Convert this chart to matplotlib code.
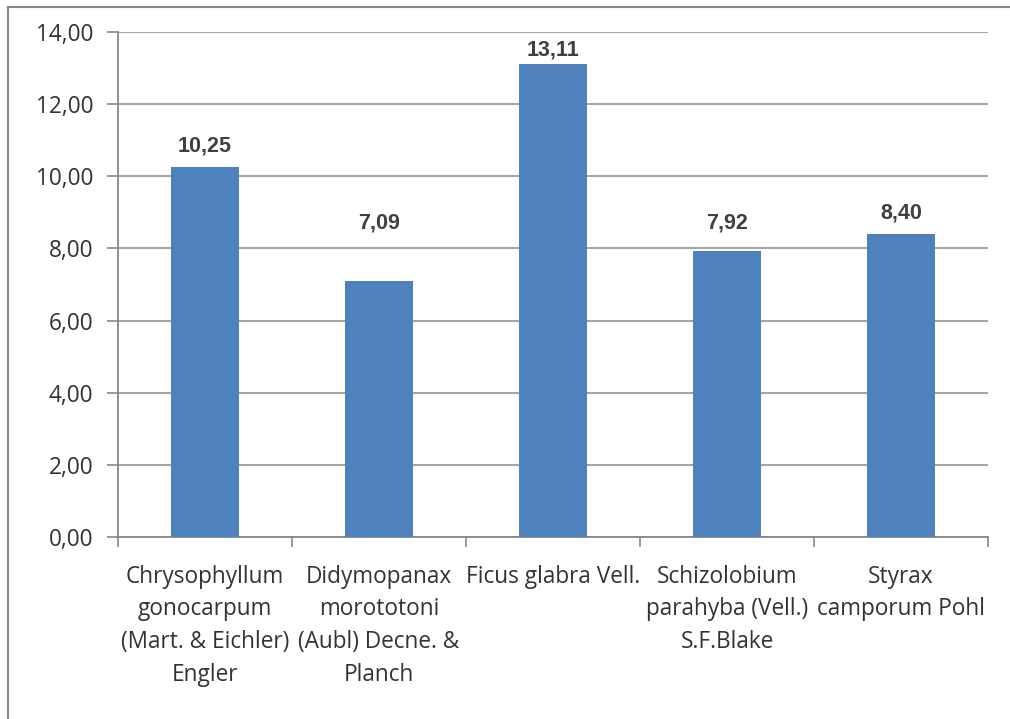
import numpy as np
import matplotlib
matplotlib.use('Agg')
import matplotlib.pyplot as plt
from matplotlib.lines import Line2D

species = ['Chrysophyllum\ngonocarpum\n(Mart. & Eichler)\nEngler',
           'Didymopanax\nmorototoni\n(Aubl) Decne. &\nPlanch',
           'Ficus glabra Vell.',
           'Schizolobium\nparahyba (Vell.)\nS.F.Blake',
           'Styrax\ncamporum Pohl']
values = [10.25, 7.09, 13.11, 7.92, 8.40]
yticks = [0, 2, 4, 6, 8, 10, 12, 14]

# label offset above bar top, pixels (Excel placed these unevenly)
label_gap = [21, 58, 14, 28, 21]

bar_color = '#4F81BD'
text_color = '#333333'
grid_color = '#A6A6A6'

plt.rcParams['font.family'] = ['Open Sans', 'DejaVu Sans']

fig = plt.figure(figsize=(10.10, 7.19), dpi=100)
ax = fig.add_axes([118/1010, 1-537/719, (988-118)/1010, (537-32)/719])

x = np.arange(len(values))
ax.bar(x, values, width=0.39, color=bar_color, zorder=3)

ax.set_xlim(-0.5, len(values)-0.5)
ax.set_ylim(0, 14)
ax.set_yticks(yticks)
ax.yaxis.set_major_formatter(plt.FuncFormatter(lambda v, p: ('%.2f' % v).replace('.', ',')))
ax.grid(axis='y', color=grid_color, linewidth=1.5, zorder=0)

ax.set_xticks(x)
ax.set_xticklabels(species, fontsize=16.3, color=text_color, linespacing=1.48)
ax.set_xticks(np.arange(len(values)+1)-0.5, minor=True)
ax.tick_params(axis='x', which='major', length=0, pad=20)
ax.tick_params(axis='x', which='minor', length=7, width=1.2, color='#888888')
ax.tick_params(axis='y', length=8, width=1.2, color='#888888', labelsize=16.3,
               labelcolor=text_color, pad=10)

for s in ['top', 'right']:
    ax.spines[s].set_visible(False)
for s in ['left', 'bottom']:
    ax.spines[s].set_color('#888888')
    ax.spines[s].set_linewidth(1.3)

for xi, v, g in zip(x, values, label_gap):
    ax.annotate(('%.2f' % v).replace('.', ','), (xi, v), xytext=(0, g),
                textcoords='offset pixels', ha='center', va='center',
                fontsize=15.5, fontweight='bold', color='#404040',
                family='Liberation Sans')

# outer frame (top and left edge of the original image)
fig.add_artist(Line2D([8/1010, 1], [1-7/719, 1-7/719], color='#888888', lw=1.5))
fig.add_artist(Line2D([8/1010, 8/1010], [0, 1-7/719], color='#888888', lw=1.5))

fig.savefig('out.png', dpi=100)
